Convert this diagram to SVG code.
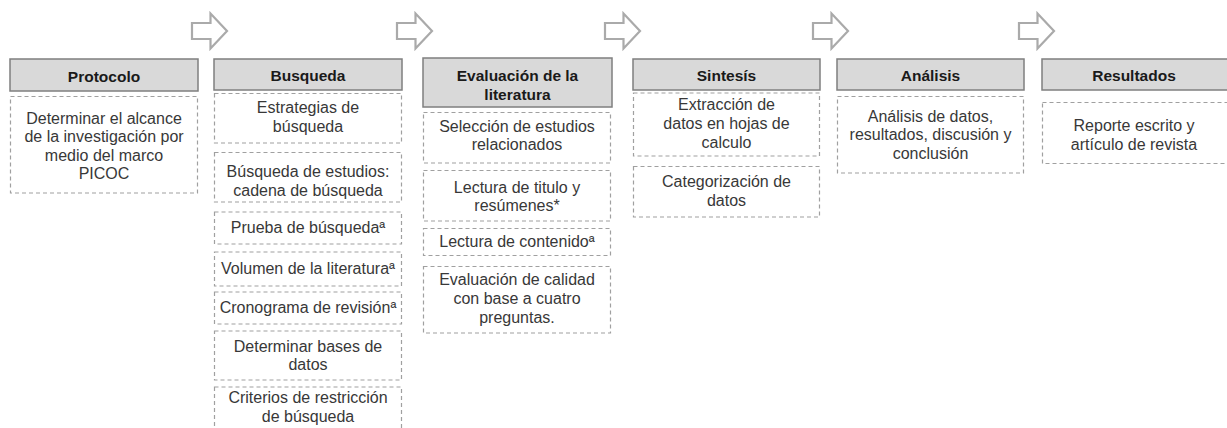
<svg xmlns="http://www.w3.org/2000/svg" width="1227" height="428" viewBox="0 0 1227 428">
<style>
.hd{fill:#d9d9d9;stroke:#7f7f7f;stroke-width:1.5}
.bx{fill:#fff;stroke:#a0a0a0;stroke-width:1.2;stroke-dasharray:4 3}
.ht{font-family:"Liberation Sans",Arial,sans-serif;font-size:15.5px;font-weight:bold;fill:#1a1a1a;text-anchor:middle}
.t{font-family:"Liberation Sans",Arial,sans-serif;font-size:16px;fill:#383838;text-anchor:middle}
.ar{fill:#fff;stroke:#aaaaaa;stroke-width:2.2;stroke-linejoin:miter}
</style>
<defs>
<path id="arr" d="M0,9.5 H18.5 V0 L35,17.5 L18.5,35 V25.5 H0 Z"/>
</defs>
<rect width="1227" height="428" fill="#fff"/>
<g id="connectors">
<use href="#arr" class="ar" x="192" y="13.5"/>
<use href="#arr" class="ar" x="397" y="13.5"/>
<use href="#arr" class="ar" x="605" y="13.5"/>
<use href="#arr" class="ar" x="813" y="13.5"/>
<use href="#arr" class="ar" x="1019" y="13.5"/>
</g>
<g id="protocolo">
<rect class="hd" x="10" y="59" width="188" height="32"/>
<text class="ht" x="104" y="81.5">Protocolo</text>
<rect class="bx" x="10.5" y="96.5" width="187" height="96.5"/>
<text class="t" x="104" y="124">Determinar el alcance<tspan x="104" y="142.3">de la investigación por</tspan><tspan x="104" y="160.6">medio del marco</tspan><tspan x="104" y="179">PICOC</tspan></text>
</g>
<g id="busqueda">
<rect class="hd" x="214" y="59" width="188" height="31"/>
<text class="ht" x="308" y="81">Busqueda</text>
<rect class="bx" x="214.5" y="93.5" width="187" height="49.5"/>
<text class="t" x="308" y="113">Estrategias de<tspan x="308" y="132">búsqueda</tspan></text>
<rect class="bx" x="214.5" y="152.5" width="187" height="49.5"/>
<text class="t" x="308" y="177">Búsqueda de estudios:<tspan x="308" y="196">cadena de búsqueda</tspan></text>
<rect class="bx" x="214.5" y="212" width="187" height="32"/>
<text class="t" x="308" y="233">Prueba de búsquedaª</text>
<rect class="bx" x="214.5" y="252" width="187" height="34"/>
<text class="t" x="308" y="273.5">Volumen de la literaturaª</text>
<rect class="bx" x="214.5" y="292" width="187" height="32"/>
<text class="t" x="308" y="313">Cronograma de revisiónª</text>
<rect class="bx" x="214.5" y="331" width="187" height="49"/>
<text class="t" x="308" y="351.5">Determinar bases de<tspan x="308" y="370">datos</tspan></text>
<rect class="bx" x="214.5" y="387" width="187" height="60"/>
<text class="t" x="308" y="403">Criterios de restricción<tspan x="308" y="421.5">de búsqueda</tspan></text>
</g>
<g id="evaluacion">
<rect class="hd" x="423" y="58" width="189" height="49"/>
<text class="ht" x="517.5" y="81">Evaluación de la<tspan x="517.5" y="100">literatura</tspan></text>
<rect class="bx" x="423.5" y="112.5" width="187" height="50.5"/>
<text class="t" x="517" y="131.5">Selección de estudios<tspan x="517" y="150">relacionados</tspan></text>
<rect class="bx" x="423.5" y="170.5" width="187" height="50.5"/>
<text class="t" x="517" y="192.5">Lectura de titulo y<tspan x="517" y="211">resúmenes*</tspan></text>
<rect class="bx" x="423.5" y="228.5" width="187" height="27"/>
<text class="t" x="517" y="246.5">Lectura de contenidoª</text>
<rect class="bx" x="423.5" y="266.5" width="187" height="66.5"/>
<text class="t" x="517" y="285">Evaluación de calidad<tspan x="517" y="304">con base a cuatro</tspan><tspan x="517" y="323">preguntas.</tspan></text>
</g>
<g id="sintesis">
<rect class="hd" x="633" y="59" width="187" height="31"/>
<text class="ht" x="726.5" y="81">Sintesís</text>
<rect class="bx" x="633.5" y="93" width="186" height="63"/>
<text class="t" x="726.5" y="110">Extracción de<tspan x="726.5" y="128.5">datos en hojas de</tspan><tspan x="726.5" y="147.5">calculo</tspan></text>
<rect class="bx" x="633.5" y="166.5" width="186" height="50.5"/>
<text class="t" x="726.5" y="186.5">Categorización de<tspan x="726.5" y="205.5">datos</tspan></text>
</g>
<g id="analisis">
<rect class="hd" x="837" y="59" width="187" height="31"/>
<text class="ht" x="930.5" y="81">Análisis</text>
<rect class="bx" x="837.5" y="96.5" width="186" height="76.5"/>
<text class="t" x="930.5" y="121.5">Análisis de datos,<tspan x="930.5" y="140">resultados, discusión y</tspan><tspan x="930.5" y="158.5">conclusión</tspan></text>
</g>
<g id="resultados">
<rect class="hd" x="1042" y="59" width="190" height="31"/>
<text class="ht" x="1134" y="81">Resultados</text>
<rect class="bx" x="1042.5" y="102.5" width="190" height="61"/>
<text class="t" x="1134" y="131">Reporte escrito y<tspan x="1134" y="149.5">artículo de revista</tspan></text>
</g>
</svg>
